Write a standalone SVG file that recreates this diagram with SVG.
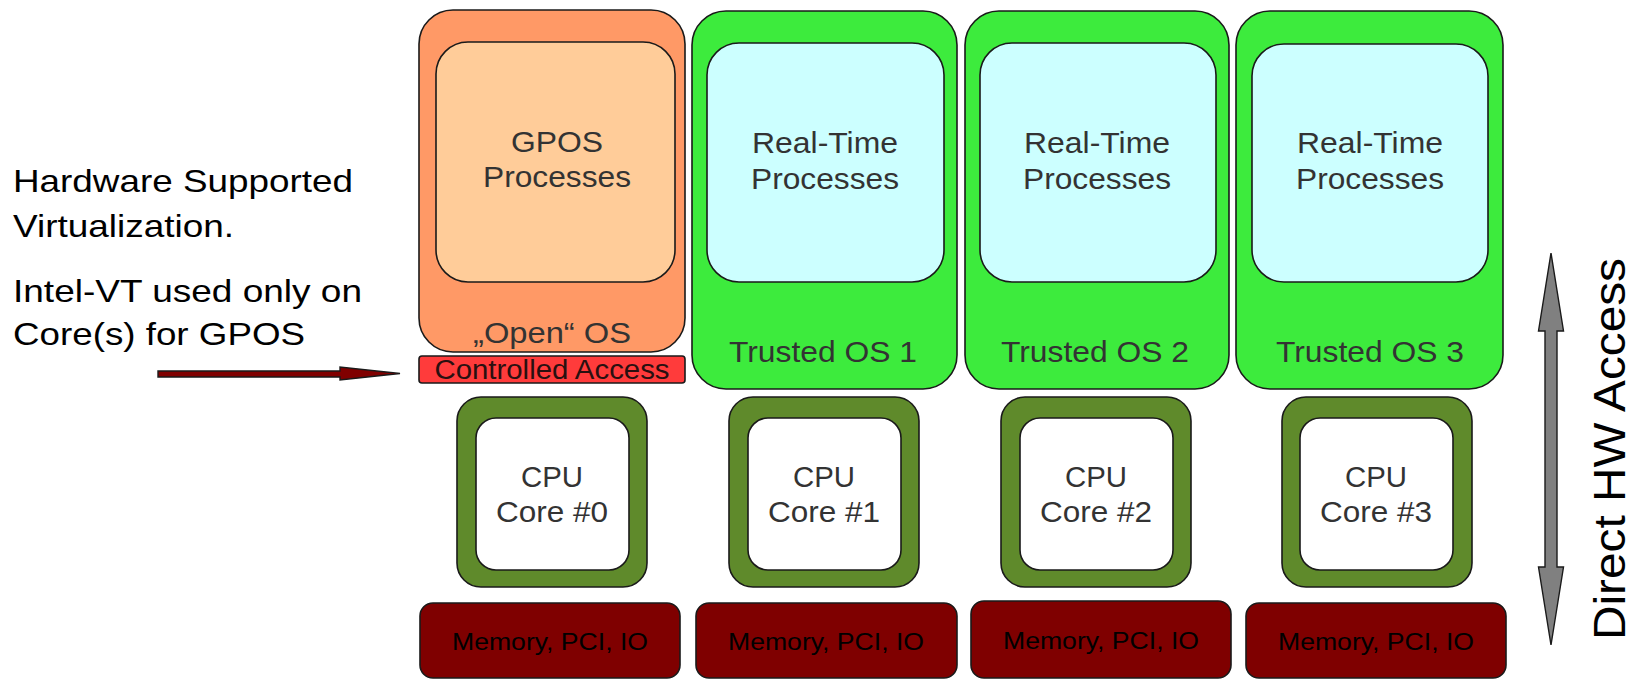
<svg xmlns="http://www.w3.org/2000/svg" width="1634" height="679" viewBox="0 0 1634 679">
  <style>
    text { font-family: "Liberation Sans", Arial, sans-serif; }
    .lbl { font-size: 29px; fill: #333333; text-anchor: middle; }
    .side { font-size: 32px; fill: #000000; }
    .mem-t { font-size: 24px; fill: #000000; text-anchor: middle; }
    .edge { stroke: #1a1a1a; stroke-width: 1.6; }
    .os-open { fill: #ff9966; }
    .proc-gp { fill: #ffcc99; }
    .os-trust { fill: #3deb3d; }
    .proc-rt { fill: #ccffff; }
    .cpu-out { fill: #5f8a2b; }
    .cpu-in { fill: #ffffff; }
    .mem { fill: #7f0000; }
    .ctl { fill: #ff3b3b; }
  </style>
  <rect width="1634" height="679" fill="#ffffff"/>

  <!-- explanatory text on the left -->
  <g id="note">
    <text class="side" x="13" y="192" textLength="340" lengthAdjust="spacingAndGlyphs">Hardware Supported</text>
    <text class="side" x="13" y="237" textLength="221" lengthAdjust="spacingAndGlyphs">Virtualization.</text>
    <text class="side" x="13" y="302" textLength="349" lengthAdjust="spacingAndGlyphs">Intel-VT used only on</text>
    <text class="side" x="13" y="345" textLength="292" lengthAdjust="spacingAndGlyphs">Core(s) for GPOS</text>
  </g>

  <!-- column 0: general purpose OS -->
  <g id="open-os">
    <rect class="os-open edge" x="419" y="10" width="266" height="342" rx="34"/>
    <rect class="proc-gp edge" x="436" y="42" width="239" height="240" rx="32"/>
    <text class="lbl" x="557" y="152" textLength="92" lengthAdjust="spacingAndGlyphs">GPOS</text>
    <text class="lbl" x="557" y="187" textLength="148" lengthAdjust="spacingAndGlyphs">Processes</text>
    <text class="lbl" x="552" y="343" textLength="158" lengthAdjust="spacingAndGlyphs">„Open“ OS</text>
  </g>
  <g id="controlled-access">
    <rect class="ctl edge" x="419" y="356" width="266" height="27" rx="3"/>
    <text x="552" y="379" font-size="27" fill="#2a1010" text-anchor="middle" textLength="235" lengthAdjust="spacingAndGlyphs">Controlled Access</text>
  </g>

  <!-- columns 1-3: trusted real-time OSes -->
  <g id="trusted-os-1">
    <rect class="os-trust edge" x="692" y="11" width="265" height="378" rx="34"/>
    <rect class="proc-rt edge" x="707" y="43" width="237" height="239" rx="32"/>
    <text class="lbl" x="825" y="153" textLength="146" lengthAdjust="spacingAndGlyphs">Real-Time</text>
    <text class="lbl" x="825" y="189" textLength="148" lengthAdjust="spacingAndGlyphs">Processes</text>
    <text class="lbl" x="823" y="362" textLength="188" lengthAdjust="spacingAndGlyphs">Trusted OS 1</text>
  </g>
  <g id="trusted-os-2">
    <rect class="os-trust edge" x="965" y="11" width="264" height="378" rx="34"/>
    <rect class="proc-rt edge" x="980" y="43" width="236" height="239" rx="32"/>
    <text class="lbl" x="1097" y="153" textLength="146" lengthAdjust="spacingAndGlyphs">Real-Time</text>
    <text class="lbl" x="1097" y="189" textLength="148" lengthAdjust="spacingAndGlyphs">Processes</text>
    <text class="lbl" x="1095" y="362" textLength="188" lengthAdjust="spacingAndGlyphs">Trusted OS 2</text>
  </g>
  <g id="trusted-os-3">
    <rect class="os-trust edge" x="1236" y="11" width="267" height="378" rx="34"/>
    <rect class="proc-rt edge" x="1252" y="44" width="236" height="238" rx="32"/>
    <text class="lbl" x="1370" y="153" textLength="146" lengthAdjust="spacingAndGlyphs">Real-Time</text>
    <text class="lbl" x="1370" y="189" textLength="148" lengthAdjust="spacingAndGlyphs">Processes</text>
    <text class="lbl" x="1370" y="362" textLength="188" lengthAdjust="spacingAndGlyphs">Trusted OS 3</text>
  </g>

  <!-- CPU cores -->
  <g id="core-0">
    <rect class="cpu-out edge" x="457" y="397" width="190" height="190" rx="24"/>
    <rect class="cpu-in edge" x="476" y="418" width="153" height="152" rx="20"/>
    <text class="lbl" x="552" y="487" textLength="62" lengthAdjust="spacingAndGlyphs">CPU</text>
    <text class="lbl" x="552" y="522" textLength="112" lengthAdjust="spacingAndGlyphs">Core #0</text>
  </g>
  <g id="core-1">
    <rect class="cpu-out edge" x="729" y="397" width="190" height="190" rx="24"/>
    <rect class="cpu-in edge" x="748" y="418" width="153" height="152" rx="20"/>
    <text class="lbl" x="824" y="487" textLength="62" lengthAdjust="spacingAndGlyphs">CPU</text>
    <text class="lbl" x="824" y="522" textLength="112" lengthAdjust="spacingAndGlyphs">Core #1</text>
  </g>
  <g id="core-2">
    <rect class="cpu-out edge" x="1001" y="397" width="190" height="190" rx="24"/>
    <rect class="cpu-in edge" x="1020" y="418" width="153" height="152" rx="20"/>
    <text class="lbl" x="1096" y="487" textLength="62" lengthAdjust="spacingAndGlyphs">CPU</text>
    <text class="lbl" x="1096" y="522" textLength="112" lengthAdjust="spacingAndGlyphs">Core #2</text>
  </g>
  <g id="core-3">
    <rect class="cpu-out edge" x="1282" y="397" width="190" height="190" rx="24"/>
    <rect class="cpu-in edge" x="1300" y="418" width="153" height="152" rx="20"/>
    <text class="lbl" x="1376" y="487" textLength="62" lengthAdjust="spacingAndGlyphs">CPU</text>
    <text class="lbl" x="1376" y="522" textLength="112" lengthAdjust="spacingAndGlyphs">Core #3</text>
  </g>

  <!-- memory / PCI / IO per core -->
  <g id="mem-0">
    <rect class="mem edge" x="420" y="603" width="260" height="75" rx="13"/>
    <text class="mem-t" x="550" y="650" textLength="196" lengthAdjust="spacingAndGlyphs">Memory, PCI, IO</text>
  </g>
  <g id="mem-1">
    <rect class="mem edge" x="696" y="603" width="261" height="75" rx="13"/>
    <text class="mem-t" x="826" y="650" textLength="196" lengthAdjust="spacingAndGlyphs">Memory, PCI, IO</text>
  </g>
  <g id="mem-2">
    <rect class="mem edge" x="971" y="601" width="260" height="77" rx="13"/>
    <text class="mem-t" x="1101" y="649" textLength="196" lengthAdjust="spacingAndGlyphs">Memory, PCI, IO</text>
  </g>
  <g id="mem-3">
    <rect class="mem edge" x="1246" y="603" width="260" height="75" rx="13"/>
    <text class="mem-t" x="1376" y="650" textLength="196" lengthAdjust="spacingAndGlyphs">Memory, PCI, IO</text>
  </g>

  <!-- arrows -->
  <g id="connectors">
    <polygon fill="#800000" stroke="#1a1a1a" stroke-width="1.4"
      points="158,371 340,371 340,367 400,373.5 340,380 340,377 158,377"/>
    <polygon fill="#808080" stroke="#1a1a1a" stroke-width="1.4"
      points="1551,253 1563.5,331 1557,331 1557,567 1563.5,567 1551,645 1538.5,567 1545,567 1545,331 1538.5,331"/>
  </g>

  <g id="hw-label">
    <text x="0" y="0" font-size="45" fill="#000000" transform="translate(1625,640) rotate(-90)" textLength="382" lengthAdjust="spacingAndGlyphs">Direct HW Access</text>
  </g>
</svg>
